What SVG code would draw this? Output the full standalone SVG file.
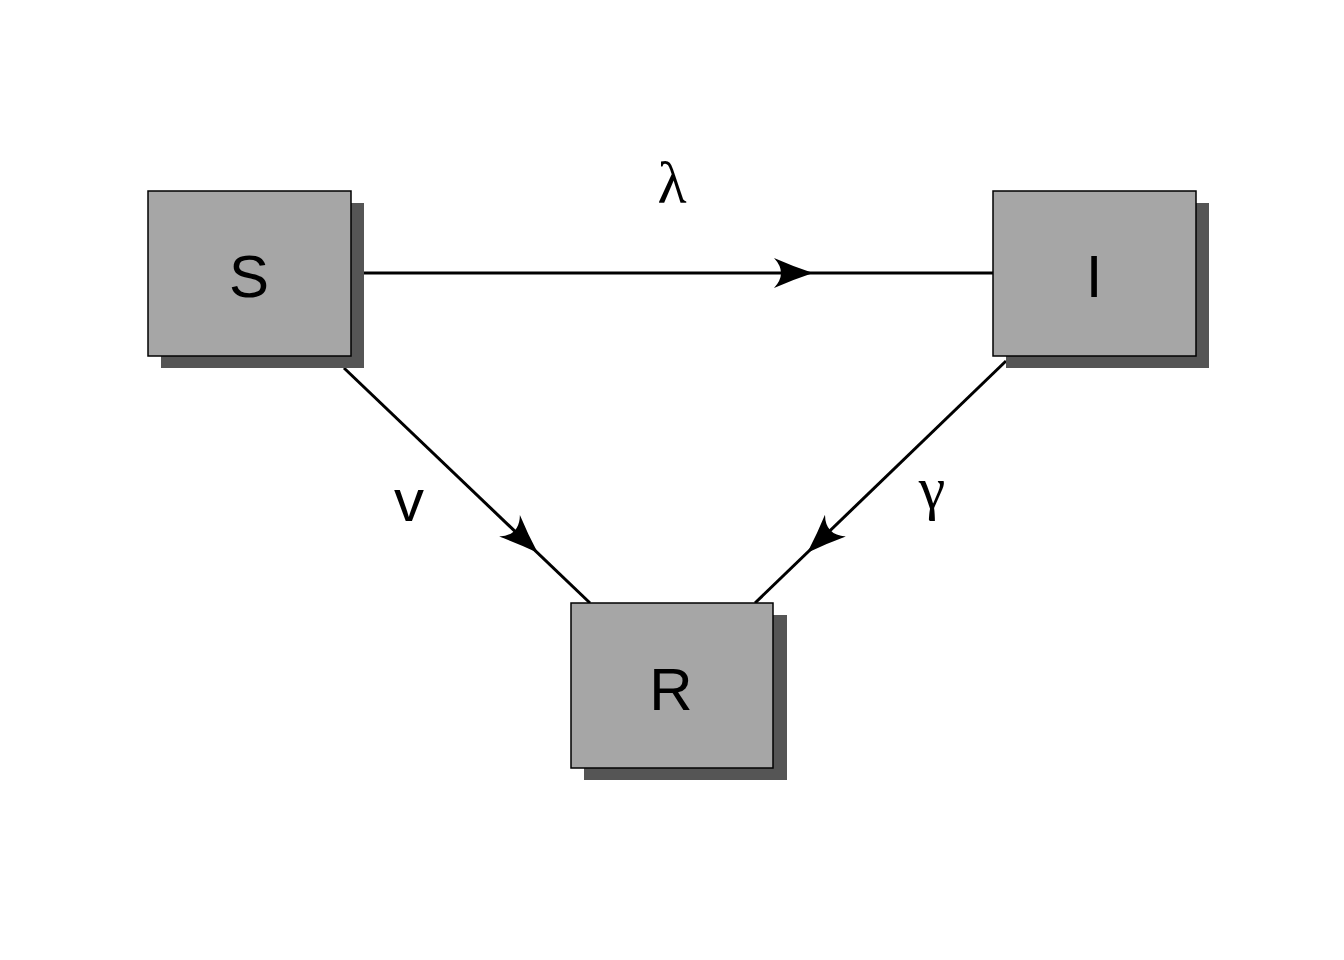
<svg xmlns="http://www.w3.org/2000/svg" xmlns:xlink="http://www.w3.org/1999/xlink" width="1344" height="960" viewBox="0 0 1344 960">
<style>
.shadow{fill:#555555;stroke:none}
.box{fill:#a6a6a6;stroke:#000;stroke-width:1.5}
.lbl{font-family:"Liberation Sans",Arial,sans-serif;font-size:60px;fill:#000;text-anchor:middle}
.greek{font-family:"Liberation Serif","Times New Roman",serif;font-size:60px;fill:#000;text-anchor:middle}
.edge{stroke:#000;stroke-width:3;fill:none}
.ah{fill:#000;stroke:none}
</style>
<defs>
<path id="ah" d="M1,0 Q-20,-7 -38,-15 Q-24,0 -38,15 Q-20,7 1,0 Z"/>
</defs>
<rect width="1344" height="960" fill="#fff"/>
<g id="connectors">
<line class="edge" x1="364" y1="273" x2="993" y2="273"/>
<use href="#ah" class="ah" transform="translate(812,273)"/>
<text class="greek" x="672" y="203">λ</text>
<line class="edge" x1="344" y1="368" x2="590" y2="603"/>
<use href="#ah" class="ah" transform="translate(537,552) rotate(43.7)"/>
<text class="lbl" x="409" y="521">v</text>
<line class="edge" x1="1006" y1="361" x2="755" y2="603"/>
<use href="#ah" class="ah" transform="translate(808,552) rotate(136.1)"/>
<text class="greek" x="932" y="508">γ</text>
</g>
<g id="node-S">
<rect class="shadow" x="161" y="203" width="203" height="165"/>
<rect class="box" x="148" y="191" width="203" height="165"/>
<text class="lbl" x="249" y="297">S</text>
</g>
<g id="node-I">
<rect class="shadow" x="1006" y="203" width="203" height="165"/>
<rect class="box" x="993" y="191" width="203" height="165"/>
<text class="lbl" x="1094" y="297">I</text>
</g>
<g id="node-R">
<rect class="shadow" x="584" y="615" width="203" height="165"/>
<rect class="box" x="571" y="603" width="202" height="165"/>
<text class="lbl" x="671" y="710">R</text>
</g>
</svg>
